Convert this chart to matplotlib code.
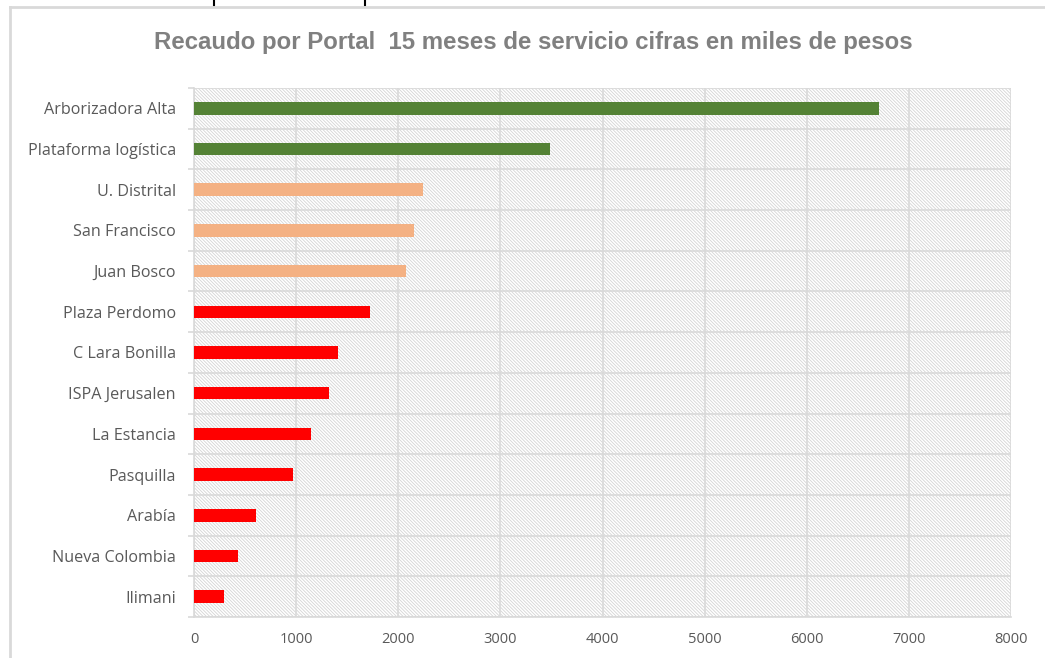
import matplotlib
matplotlib.use('Agg')
import matplotlib.pyplot as plt
from matplotlib.patches import Rectangle
from matplotlib.lines import Line2D

# data, top to bottom
portales = ['Arborizadora Alta', 'Plataforma logística', 'U. Distrital', 'San Francisco',
            'Juan Bosco', 'Plaza Perdomo', 'C Lara Bonilla', 'ISPA Jerusalen',
            'La Estancia', 'Pasquilla', 'Arabía', 'Nueva Colombia', 'Ilimani']
recaudo = [6710, 3490, 2245, 2158, 2071, 1726, 1413, 1318, 1148, 972, 610, 434, 297]
grupo = ['alto', 'alto', 'medio', 'medio', 'medio', 'bajo', 'bajo', 'bajo',
         'bajo', 'bajo', 'bajo', 'bajo', 'bajo']
colores = {'alto': '#548235', 'medio': '#F4B183', 'bajo': '#FF0000'}
xticks = [0, 1000, 2000, 3000, 4000, 5000, 6000, 7000, 8000]
titulo = 'Recaudo por Portal  15 meses de servicio cifras en miles de pesos'

W, H = 1045, 658
fig = plt.figure(figsize=(W / 100, H / 100), dpi=100)
fig.patch.set_facecolor('white')

ax = fig.add_axes([194 / W, 1 - 617 / H, (1011 - 194) / W, (617 - 88) / H])
n = len(portales)
ypos = list(range(n))[::-1]

# hatched background (fine diagonal lines)
plt.rcParams['hatch.color'] = '#d4d4d4'
plt.rcParams['hatch.linewidth'] = 0.6
bg = Rectangle((0, 0), 1, 1, transform=ax.transAxes, facecolor='white',
               edgecolor='#d4d4d4', hatch='\\' * 10, linewidth=0, zorder=0)
ax.add_patch(bg)

ax.barh(ypos, recaudo, height=0.31, color=[colores[g] for g in grupo], zorder=3)

ax.set_xlim(0, 8000)
ax.set_ylim(-0.5, n - 0.5)
ax.set_xticks(xticks)
ax.set_yticks(ypos)
ax.set_yticklabels(portales)
ax.set_yticks([i - 0.5 for i in range(n + 1)], minor=True)

gcol = '#d9d9d9'
ax.grid(axis='x', color=gcol, linewidth=1.2, zorder=1)
ax.grid(axis='y', which='minor', color=gcol, linewidth=1.2, zorder=1)
ax.set_axisbelow(True)
for s in ['top', 'right']:
    ax.spines[s].set_visible(False)
ax.spines['left'].set_color(gcol)
ax.spines['bottom'].set_color(gcol)
ax.spines['left'].set_linewidth(1.2)
ax.spines['bottom'].set_linewidth(1.2)

ax.tick_params(axis='y', which='major', length=0, pad=13, labelsize=11.6, labelcolor='#595959')
ax.tick_params(axis='y', which='minor', length=4, color=gcol, width=1.2)
ax.tick_params(axis='x', length=0, pad=11, labelsize=10.5, labelcolor='#595959')
for lab in ax.get_yticklabels() + ax.get_xticklabels():
    lab.set_family(['Open Sans', 'DejaVu Sans'])

fig.text(533 / W, 1 - 43 / H, titulo, ha='center', va='center', fontsize=17.3,
         fontweight='bold', color='#808080', family=['Liberation Sans', 'DejaVu Sans'])

# chart frame and cut-off lines above
fig.add_artist(Line2D([10 / W, 1], [1 - 7 / H, 1 - 7 / H], color='#d9d9d9', linewidth=2, transform=fig.transFigure))
fig.add_artist(Line2D([10 / W, 10 / W], [0, 1 - 7 / H], color='#d9d9d9', linewidth=2, transform=fig.transFigure))
for xx in [214, 365]:
    fig.add_artist(Line2D([xx / W, xx / W], [1 - 5 / H, 1], color='black', linewidth=1.5, transform=fig.transFigure))

fig.savefig('out.png', dpi=100)
